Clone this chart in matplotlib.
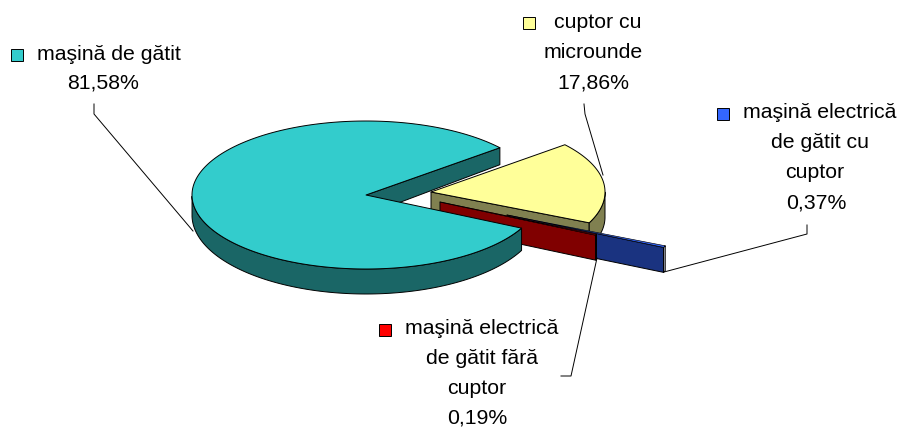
import numpy as np
import matplotlib
matplotlib.use("Agg")
import matplotlib.pyplot as plt
from matplotlib.patches import Polygon

categories = ["maşină de gătit", "cuptor cu microunde", "maşină electrică de gătit cu cuptor", "maşină electrică de gătit fără cuptor"]
values = [81.58, 17.86, 0.37, 0.19]
value_labels = ["81,58%", "17,86%", "0,37%", "0,19%"]
top_colors = ["#33CCCC", "#FFFF99", "#3366FF", "#FF0000"]
side_colors = ["#1A6666", "#808050", "#1A3380", "#800000"]
rim_colors = ["#1A6666", "#808050", "#B4B8C4", "#800000"]
centers = [(366, 195), (431, 192), (507, 215), (440, 202)]

RX, RY = 174, 74
START = 39.7

plt.rcParams["font.family"] = ["Liberation Sans", "DejaVu Sans"]
fig = plt.figure(figsize=(9.02, 4.29), dpi=100)
ax = fig.add_axes([0, 0, 1, 1])
ax.set_xlim(0, 902)
ax.set_ylim(429, 0)
ax.axis("off")

sweeps = 360 * np.array(values) / sum(values)
bounds = [
    (START, START + sweeps[0]),
    (START - sweeps[1], START),
    (START - sweeps[1] - sweeps[2], START - sweeps[1]),
    (START - sweeps[1] - sweeps[2] - sweeps[3], START - sweeps[1] - sweeps[2]),
]


def pt(c, deg):
    d = np.radians(deg)
    return np.array([c[0] + RX * np.cos(d), c[1] - RY * np.sin(d)])


def depth(i, y):
    # the big slice recedes: its wall is shallower towards the back
    if i == 0:
        return 17 + (y - 148) * 8 / 121
    return 25


def lower(i, p):
    return np.array([p[0], p[1] + depth(i, p[1])])


def draw_slice(i, z):
    c = centers[i]
    a0, a1 = bounds[i]
    th = np.linspace(a0, a1, 240)
    kw = dict(edgecolor="black", linewidth=0.7, joinstyle="round", zorder=z)
    # near cut face
    e = pt(c, a0)
    ax.add_patch(Polygon([c, e, lower(i, e), lower(i, c)], facecolor=side_colors[i], **kw))
    # outer wall: rim facing the viewer
    m = np.mod(th, 360)
    seg = th[m >= 180]
    if len(seg):
        p = np.array([pt(c, t) for t in seg])
        q = np.array([lower(i, s) for s in p])
        ax.add_patch(Polygon(np.vstack([p, q[::-1]]), facecolor=rim_colors[i], **kw))
    # top surface
    arc = np.array([pt(c, t) for t in th])
    lw = 0.7 if i < 2 else 0.45
    ax.add_patch(Polygon(np.vstack([[c], arc]), facecolor=top_colors[i],
                         edgecolor="black", linewidth=lw, joinstyle="round", zorder=z + 0.5))


for z, i in enumerate([1, 2, 3, 0]):
    draw_slice(i, 2 + z)

leaders = [
    ([94, 94, 193], [104, 114, 231]),
    ([584, 585, 603], [104, 114, 175]),
    ([807, 807, 664], [225, 234, 272]),
    ([561, 571, 597], [376, 376, 258]),
]
for xs, ys in leaders:
    ax.plot(xs, ys, color="black", lw=0.7, zorder=10)


def key(x, y, color):
    ax.add_patch(Polygon([(x, y), (x + 12, y), (x + 12, y + 12), (x, y + 12)],
                         facecolor=color, edgecolor="black", linewidth=0.7, zorder=11))


FS = 15.3


def label(x, y, s, ha="center"):
    ax.text(x, y, s, fontsize=FS, ha=ha, va="center", color="black", zorder=12)


key(11, 49, top_colors[0])
label(37, 54, "maşină de gătit", "left")
label(103, 83, value_labels[0])

key(523, 17, top_colors[1])
label(598, 22, "cuptor cu")
label(593, 52, "microunde")
label(593, 83, value_labels[1])

key(717, 108, top_colors[2])
label(743, 113, "maşină electrică", "left")
label(820, 142, "de gătit cu")
label(815, 172, "cuptor")
label(816, 203, value_labels[2])

key(379, 324, top_colors[3])
label(405, 329, "maşină electrică", "left")
label(482, 359, "de gătit fără")
label(477, 389, "cuptor")
label(477, 418, value_labels[3])

fig.savefig("out.png", dpi=100)
